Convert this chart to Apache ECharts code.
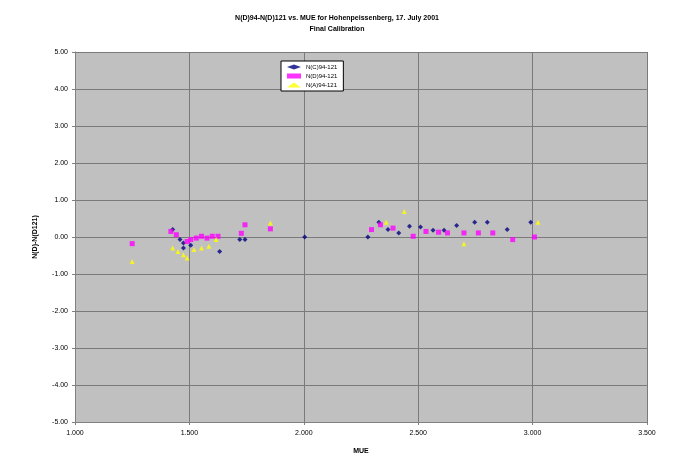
<!DOCTYPE html>
<html>
<head>
<meta charset="utf-8">
<style>
  html, body { margin: 0; padding: 0; background: #fff; }
  #chart { width: 674px; height: 463px; }
</style>
<script src="https://cdn.jsdelivr.net/npm/echarts@6/dist/echarts.min.js"></script>
</head>
<body>
<div id="chart"></div>
<script>
// N(D)94-N(D)121 vs MUE - Hohenpeissenberg
var seriesNames = ['N(C)94-121', 'N(D)94-121', 'N(A)94-121'];

// [MUE, difference]
var navyPoints = [
    [1.427, 0.20], [1.459, -0.07], [1.474, -0.16], [1.474, -0.30], [1.506, -0.22],
    [1.632, -0.39], [1.720, -0.07], [1.743, -0.07], [2.004, 0.00],
    [2.280, 0.00], [2.328, 0.40], [2.368, 0.20], [2.415, 0.11], [2.462, 0.29],
    [2.510, 0.27], [2.565, 0.18], [2.613, 0.18], [2.668, 0.31], [2.747, 0.40],
    [2.802, 0.40], [2.889, 0.20], [2.992, 0.40]
];
var magentaPoints = [
    [1.250, -0.18], [1.419, 0.15], [1.443, 0.06], [1.490, -0.12], [1.506, -0.07],
    [1.530, -0.03], [1.553, 0.02], [1.577, -0.03], [1.600, 0.02], [1.625, 0.02],
    [1.727, 0.10], [1.743, 0.33], [1.854, 0.22],
    [2.296, 0.20], [2.335, 0.33], [2.390, 0.24], [2.478, 0.02], [2.534, 0.15],
    [2.589, 0.13], [2.628, 0.11], [2.700, 0.11], [2.763, 0.11], [2.826, 0.11],
    [2.913, -0.07], [3.008, 0.00]
];
var yellowPoints = [
    [1.250, -0.66], [1.427, -0.30], [1.450, -0.39], [1.474, -0.48], [1.490, -0.57],
    [1.520, -0.34], [1.553, -0.30], [1.585, -0.25], [1.617, -0.07], [1.854, 0.38],
    [2.360, 0.40], [2.439, 0.69], [2.700, -0.18], [3.024, 0.40]
];
var xTicks = { min: 1.0, max: 3.5, step: 0.5 };
var yTicks = { min: -5, max: 5, step: 1 };

var chart = echarts.init(document.getElementById('chart'), null, { renderer: 'canvas' });
var font = 'Liberation Sans';

var option = {
    backgroundColor: '#ffffff',
    animation: false,
    title: {
        text: 'N(D)94-N(D)121 vs. MUE for Hohenpeissenberg, 17. July 2001\nFinal Calibration',
        left: 'center',
        top: 8,
        textStyle: { fontFamily: font, fontSize: 7, fontWeight: 'bold', color: '#000', lineHeight: 11 }
    },
    legend: {
        orient: 'vertical',
        left: 281,
        top: 61,
        padding: [3, 6, 3, 6],
        itemGap: 3,
        itemWidth: 14,
        itemHeight: 5,
        backgroundColor: '#ffffff',
        borderColor: '#000',
        borderWidth: 1,
        borderRadius: 0,
        data: seriesNames,
        textStyle: { fontFamily: font, fontSize: 6, color: '#000' }
    },
    grid: { left: 75, right: 27, top: 52, bottom: 41 },
    xAxis: {
        type: 'value',
        min: xTicks.min,
        max: xTicks.max,
        interval: xTicks.step,
        name: 'MUE',
        nameLocation: 'middle',
        nameGap: 26,
        nameTextStyle: { fontFamily: font, fontSize: 7, fontWeight: 'bold', color: '#000' },
        axisLine: { onZero: false, lineStyle: { color: '#808080' } },
        axisTick: { show: true, length: 3, lineStyle: { color: '#808080' } },
        axisLabel: {
            fontFamily: font, fontSize: 7, color: '#000', margin: 8,
            formatter: function (v) { return v.toFixed(3); }
        },
        splitLine: { show: true, lineStyle: { color: '#7a7a7a', width: 1 } }
    },
    yAxis: {
        type: 'value',
        min: yTicks.min,
        max: yTicks.max,
        interval: yTicks.step,
        name: 'N(D)-N(D121)',
        nameLocation: 'middle',
        nameGap: 36,
        nameTextStyle: { fontFamily: font, fontSize: 7, fontWeight: 'bold', color: '#000' },
        axisLine: { show: true, lineStyle: { color: '#808080' } },
        axisTick: { show: true, length: 3, lineStyle: { color: '#808080' } },
        axisLabel: {
            fontFamily: font, fontSize: 7, color: '#000', margin: 7,
            formatter: function (v) { return v.toFixed(2); }
        },
        splitLine: { show: true, lineStyle: { color: '#7a7a7a', width: 1 } },
        splitArea: { show: true, areaStyle: { color: ['#c0c0c0', '#c0c0c0'] } }
    },
    series: [
        {
            name: seriesNames[0], type: 'scatter', data: navyPoints,
            symbol: 'diamond', symbolSize: 5,
            itemStyle: { color: '#000080' }
        },
        {
            name: seriesNames[1], type: 'scatter', data: magentaPoints,
            symbol: 'rect', symbolSize: 5,
            itemStyle: { color: '#ff00ff' }
        },
        {
            name: seriesNames[2], type: 'scatter', data: yellowPoints,
            symbol: 'triangle', symbolSize: 5,
            itemStyle: { color: '#ffff00' }
        }
    ]
};

chart.setOption(option);
window.addEventListener('resize', function () {
    chart.resize();
});
</script>
</body>
</html>
